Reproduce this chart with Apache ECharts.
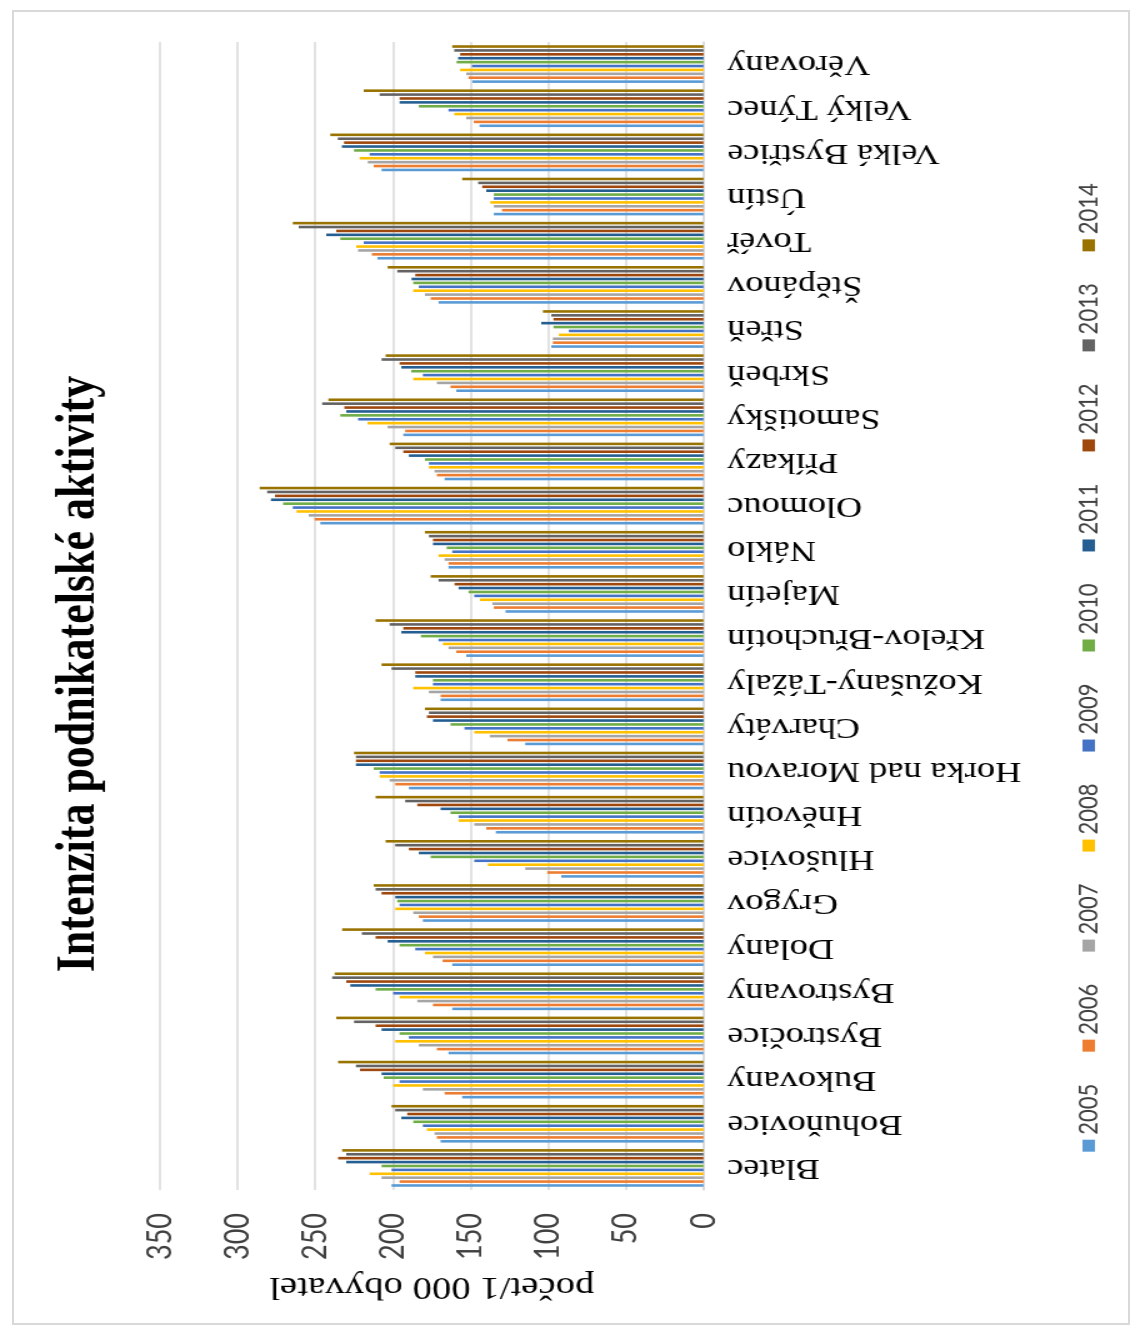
<!DOCTYPE html>
<html>
<head>
<meta charset="utf-8">
<title>Intenzita podnikatelské aktivity</title>
<script src="https://cdn.jsdelivr.net/npm/echarts@6/dist/echarts.min.js"></script>
<style>
  html, body { margin: 0; padding: 0; background: #fff; overflow: hidden; width: 1140px; height: 1335px; }
  #frame { position: absolute; left: 12px; top: 10px; width: 1118px; height: 1315px; border: 2px solid #d9d9d9; box-sizing: border-box; }
  /* the column chart is laid out upright, then turned a quarter turn counter-clockwise */
  #chart { position: absolute; left: 0; top: 0; width: 1335px; height: 912px;
           transform-origin: 0 0; transform: translate(0, 1335px) rotate(-90deg) scale(1, 1.25); }
</style>
</head>
<body>
<div id="frame"></div>
<div id="chart"></div>
<script>
const categories = ['Blatec', 'Bohuňovice', 'Bukovany', 'Bystročice', 'Bystrovany', 'Dolany', 'Grygov',
  'Hlušovice', 'Hněvotín', 'Horka nad Moravou', 'Charváty', 'Kožušany-Tážaly', 'Křelov-Břuchotín',
  'Majetín', 'Náklo', 'Olomouc', 'Příkazy', 'Samotišky', 'Skrbeň', 'Střeň', 'Štěpánov', 'Tovéř',
  'Ústín', 'Velká Bystřice', 'Velký Týnec', 'Věrovany'];

const years = ['2005', '2006', '2007', '2008', '2009', '2010', '2011', '2012', '2013', '2014'];

// počet podnikatelských subjektů na 1 000 obyvatel, one array per year
const v2005 = [200.9, 169.3, 155.4, 164.2, 161.8, 161.8, 180.7, 91.6, 133.7, 189.7, 114.8, 169.3, 152.8, 127.5, 164.2, 246.8, 166.7, 193.3, 159.2, 98.0, 170.6, 209.9, 135.0, 207.3, 144.2, 148.9];
const v2006 = [195.7, 171.7, 166.7, 171.7, 174.2, 168.0, 183.3, 100.6, 139.9, 198.5, 126.2, 169.3, 159.2, 135.0, 164.2, 250.4, 171.7, 192.1, 162.9, 97.0, 175.7, 213.5, 129.8, 212.4, 147.9, 151.3];
const v2007 = [207.3, 173.2, 180.7, 183.3, 184.3, 174.2, 186.9, 114.8, 147.6, 202.1, 137.6, 176.8, 164.2, 136.0, 166.7, 254.3, 173.2, 203.4, 171.7, 97.0, 179.4, 222.5, 135.0, 216.1, 152.8, 152.8];
const v2008 = [215.0, 178.1, 199.8, 198.5, 195.7, 179.4, 198.5, 138.8, 157.7, 208.6, 147.6, 186.9, 167.8, 144.0, 170.6, 262.0, 176.8, 216.3, 186.9, 93.1, 186.9, 223.6, 137.3, 221.5, 160.5, 156.7];
const v2009 = [200.9, 180.7, 195.7, 189.7, 199.8, 185.6, 195.7, 147.6, 157.7, 208.6, 153.9, 174.2, 170.6, 147.6, 161.8, 264.4, 176.8, 222.5, 180.7, 86.7, 183.3, 218.7, 135.0, 215.0, 164.2, 149.1];
const v2010 = [207.3, 186.9, 206.0, 195.7, 211.2, 195.7, 197.2, 175.7, 162.9, 212.4, 162.9, 174.2, 182.0, 151.3, 165.4, 270.8, 179.4, 233.9, 188.2, 96.6, 186.9, 233.9, 135.0, 225.1, 183.3, 159.0];
const v2011 = [230.0, 194.6, 207.3, 207.3, 227.5, 203.4, 198.5, 183.3, 169.3, 223.8, 174.2, 185.6, 194.6, 157.7, 174.2, 278.5, 189.7, 230.0, 194.6, 104.5, 188.0, 242.9, 139.9, 232.8, 195.7, 158.0];
const v2012 = [235.2, 190.8, 221.2, 211.2, 230.0, 211.2, 207.3, 189.7, 184.3, 223.8, 178.1, 185.6, 193.3, 160.3, 174.2, 276.0, 193.3, 231.3, 195.7, 96.6, 185.6, 236.5, 142.5, 231.5, 195.7, 156.7];
const v2013 = [230.0, 198.5, 223.8, 225.1, 239.1, 220.0, 211.2, 198.5, 192.1, 223.8, 176.8, 200.9, 202.1, 170.6, 176.8, 280.9, 198.5, 245.5, 207.3, 98.0, 197.2, 260.7, 145.1, 235.4, 208.6, 160.5];
const v2014 = [232.6, 200.9, 235.2, 236.5, 237.6, 232.6, 212.4, 204.7, 211.2, 225.1, 179.4, 207.3, 211.2, 175.7, 179.4, 285.8, 202.1, 241.6, 204.7, 103.4, 203.4, 264.4, 155.4, 240.3, 218.7, 161.8];

const yearValues = [v2005, v2006, v2007, v2008, v2009, v2010, v2011, v2012, v2013, v2014];
const yearColors = ['#5B9BD5', '#ED7D31', '#A5A5A5', '#FFC000', '#4472C4', '#70AD47', '#255E91', '#9E480E', '#636363', '#997300'];

const valueTicks = { min: 0, max: 350, interval: 50 };

const chart = echarts.init(document.getElementById('chart'), null, { renderer: 'canvas' });

chart.setOption({
  animation: false,
  backgroundColor: 'transparent',
  graphic: [{
    type: 'text',
    x: 661,
    y: 64,
    style: {
      text: 'Intenzita podnikatelské aktivity',
      font: 'bold 44px "Liberation Serif"',
      fill: '#000',
      align: 'center',
      verticalAlign: 'middle'
    }
  }],
  legend: {
    data: years,
    left: 'center',
    top: 855,
    icon: 'rect',
    itemWidth: 12,
    itemHeight: 10,
    itemGap: 32,
    textStyle: { fontFamily: 'Lato', fontSize: 22, color: '#404040' }
  },
  grid: { left: 145, right: 42, top: 128, bottom: 349.2, containLabel: false },
  xAxis: {
    type: 'category',
    data: categories,
    axisTick: { show: false },
    axisLine: { show: true, lineStyle: { color: '#d9d9d9', width: 1.5 } },
    axisLabel: {
      interval: 0,
      rotate: 90,
      margin: 19,
      fontFamily: 'Liberation Serif',
      fontSize: 29,
      color: '#000'
    }
  },
  yAxis: {
    type: 'value',
    min: valueTicks.min,
    max: valueTicks.max,
    interval: valueTicks.interval,
    name: 'počet/1 000 obyvatel',
    nameLocation: 'middle',
    nameRotate: 90,
    nameGap: 80,
    nameTextStyle: { fontFamily: 'Liberation Serif', fontSize: 31, color: '#000' },
    axisLine: { show: false },
    axisTick: { show: false },
    axisLabel: { margin: 23, fontFamily: 'Lato', fontSize: 27, color: '#404040' },
    splitLine: { lineStyle: { color: '#d9d9d9', width: 1.5 } }
  },
  series: years.map((y, i) => ({
    name: y,
    type: 'bar',
    data: yearValues[i],
    barGap: '50%',
    barCategoryGap: '14.6%',
    itemStyle: { color: yearColors[i] }
  }))
});
</script>
</body>
</html>
